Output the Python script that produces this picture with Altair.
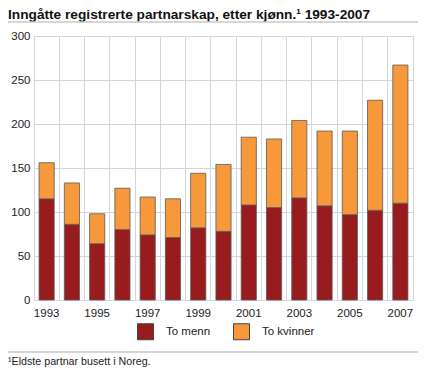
import altair as alt
import pandas as pd

years = [str(y) for y in range(1993, 2008)]
men = [115, 86, 64, 80, 74, 71, 82, 78, 108, 105, 116, 107, 97, 102, 110]
women = [41, 47, 34, 47, 43, 44, 62, 76, 77, 78, 88, 85, 95, 125, 157]
series = ["To menn", "To kvinner"]
colors = ["#981b1e", "#f7993a"]
y_ticks = [0, 50, 100, 150, 200, 250, 300]
title_text = "Inngåtte registrerte partnarskap, etter kjønn.¹ 1993-2007"
foot_text = "¹Eldste partnar busett i Noreg."

rows = []
for i, y in enumerate(years):
    rows.append({"year": y, "series": series[0], "value": men[i], "ord": 0})
    rows.append({"year": y, "series": series[1], "value": women[i], "ord": 1})
df = pd.DataFrame(rows)

W, H = 379, 264
PL, PT, PR, PB = 26, 28, 5, 70
grid = "#d3d6dd"

bars = alt.Chart(df).mark_bar(
    width=alt.RelativeBandSize(0.6), stroke="#5a5a5a", strokeWidth=0.8
).encode(
    x=alt.X("year:N", sort=years,
            scale=alt.Scale(paddingInner=0, paddingOuter=0),
            axis=alt.Axis(title=None, grid=True, gridColor=grid, ticks=False,
                          domain=False, bandPosition=0,
                          labelAngle=0, labelPadding=7, labelFontSize=11.5,
                          labelColor="#222",
                          labelExpr="toNumber(datum.value) % 2 == 1 ? datum.label : ''")),
    y=alt.Y("value:Q", stack="zero",
            scale=alt.Scale(domain=[0, 300], nice=False),
            axis=alt.Axis(title=None, values=y_ticks, grid=True, gridColor=grid,
                          ticks=False, domain=False, labelPadding=4,
                          labelFontSize=11.5, labelColor="#222")),
    color=alt.Color("series:N", scale=alt.Scale(domain=series, range=colors),
                    legend=alt.Legend(title=None, orient="none", direction="horizontal",
                                      legendX=103, legendY=287, symbolType="square",
                                      symbolSize=256, symbolStrokeColor="#444",
                                      symbolStrokeWidth=1, labelFontSize=11.5,
                                      labelColor="#222", labelOffset=12,
                                      columnPadding=20)),
    order=alt.Order("ord:Q"),
)

one = pd.DataFrame({"t": [title_text]})
title = alt.Chart(one).mark_text(
    align="left", baseline="top", fontSize=13.7, fontWeight="bold", color="#111"
).encode(x=alt.value(-PL), y=alt.value(-PT), text="t:N")

foot = alt.Chart(pd.DataFrame({"t": [foot_text]})).mark_text(
    align="left", baseline="middle", fontSize=10.7, color="#222"
).encode(x=alt.value(-PL), y=alt.value(326), text="t:N")

rule_top = alt.Chart(one).mark_rule(color="#c8c8c8", strokeWidth=1.5).encode(
    x=alt.value(-PL), x2=alt.value(W + PR), y=alt.value(-14))
rule_bot = alt.Chart(one).mark_rule(color="#c8c8c8", strokeWidth=1.5).encode(
    x=alt.value(-PL), x2=alt.value(W + PR), y=alt.value(316))

chart = alt.layer(bars, title, foot, rule_top, rule_bot).properties(
    width=W, height=H,
    padding={"left": PL, "top": PT, "right": PR, "bottom": PB},
    autosize=alt.AutoSizeParams(type="none"),
).configure(font="Liberation Sans").configure_view(stroke=grid)

chart.save("out.html", embed_options={"renderer": "svg", "actions": False})
